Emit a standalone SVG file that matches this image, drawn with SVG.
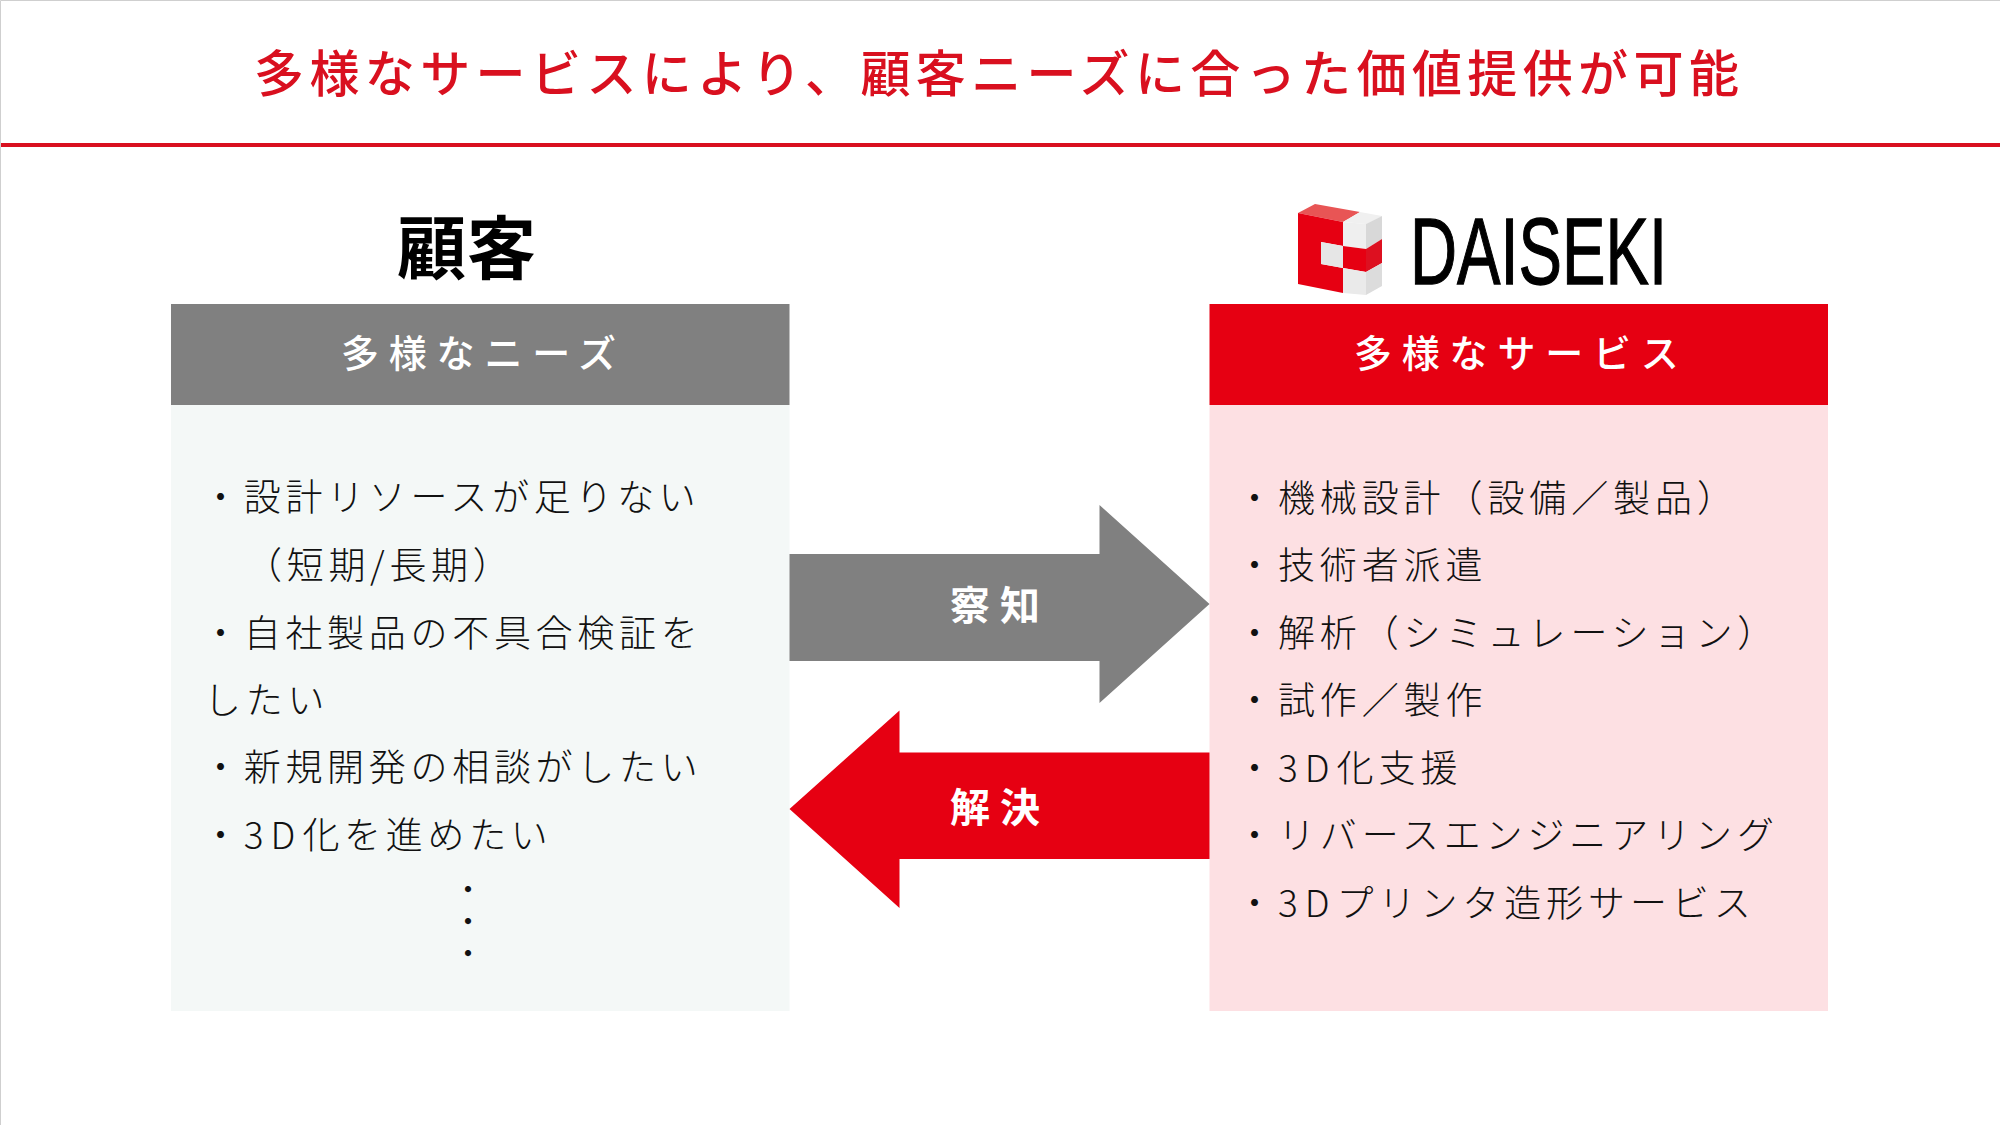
<svg xmlns="http://www.w3.org/2000/svg" width="2000" height="1125" viewBox="0 0 2000 1125">
<style>
text{font-family:"Noto Sans CJK JP","Noto Sans CJK SC",sans-serif}
.title{font-size:50px;letter-spacing:5.4px;fill:#d9101f;font-weight:500}
.head{font-size:38px;letter-spacing:9.8px;fill:#fff;font-weight:500}
.lab{font-size:40px;letter-spacing:10px;fill:#fff;font-weight:700}
.l{font-size:37px;letter-spacing:4.7px;fill:#111;font-weight:300}
.r{font-size:37px;letter-spacing:4.9px;fill:#111;font-weight:300}
.d{font-size:22px;fill:#111;font-weight:900}
.n{letter-spacing:7px}
</style>
<rect width="2000" height="1125" fill="#fff"/>
<path d="M0.5 1125V0.5H2000" fill="none" stroke="#cfcfcf"/>
<g id="header">
<text class="title" x="254" y="92">多様なサービスにより、顧客ニーズに合った価値提供が可能</text>
<rect x="1" y="143" width="1999" height="4" fill="#d9101f"/>
</g>
<g id="customer">
<text x="397" y="274" font-size="69" font-weight="700" letter-spacing="1" fill="#000">顧客</text>
<rect x="171" y="304" width="618.500" height="101" fill="#808080"/>
<rect x="171" y="405" width="618.500" height="606" fill="#f4f8f7"/>
<text class="head" x="341" y="367">多様なニーズ</text>
<text class="l" x="202" y="511">・設計リソースが足りない</text>
<text class="l" x="245" y="579">（短期/長期）</text>
<text class="l" x="202" y="647">・自社製品の不具合検証を</text>
<text class="l" x="204" y="714">したい</text>
<text class="l" x="202" y="781">・新規開発の相談がしたい</text>
<text class="l" x="202" y="849">・<tspan class="n">3D</tspan>化を進めたい</text>
<text class="d" x="457" y="897">・</text>
<text class="d" x="457" y="929">・</text>
<text class="d" x="457" y="961">・</text>
</g>
<g id="daiseki">
<polygon points="1298,213 1315,204 1360,212 1343,222" fill="#e85555"/>
<polygon points="1343,222 1360,212 1382,216 1366,224" fill="#f0f0f0"/>
<polygon points="1298,213 1343,222 1343,246 1321,242 1321,264 1343,268 1343,293 1298,284" fill="#e60012"/>
<polygon points="1343,222 1366,224 1366,249 1343,246" fill="#efefef"/>
<polygon points="1366,224 1382,216 1382,239 1366,249" fill="#d8d8d8"/>
<polygon points="1321,242 1343,246 1343,268 1321,264" fill="#e6e6e6"/>
<polygon points="1343,246 1366,249 1366,272 1343,268" fill="#e60012"/>
<polygon points="1366,249 1382,239 1382,263 1366,272" fill="#dd1020"/>
<polygon points="1343,268 1366,272 1366,295 1343,293" fill="#eaeaea"/>
<polygon points="1366,272 1382,263 1382,286 1366,295" fill="#dcdcdc"/>
<text x="1410" y="284" font-size="95" textLength="257" lengthAdjust="spacingAndGlyphs" fill="#000" stroke="#000" stroke-width="1.300" style="font-family:'Liberation Sans',sans-serif">DAISEKI</text>
<rect x="1209.500" y="304" width="618.500" height="101" fill="#e60012"/>
<rect x="1209.500" y="405" width="618.500" height="606" fill="#fde0e3"/>
<text class="head" x="1354" y="367">多様なサービス</text>
<text class="r" x="1236" y="512">・機械設計（設備／製品）</text>
<text class="r" x="1236" y="579">・技術者派遣</text>
<text class="r" x="1236" y="647">・解析（シミュレーション）</text>
<text class="r" x="1236" y="714">・試作／製作</text>
<text class="r" x="1236" y="782">・<tspan class="n">3D</tspan>化支援</text>
<text class="r" x="1236" y="849">・リバースエンジニアリング</text>
<text class="r" x="1236" y="917">・<tspan class="n">3D</tspan>プリンタ造形サービス</text>
</g>
<g id="connectors">
<g id="arrow-sasshi">
<polygon points="789.500,554 1099.500,554 1099.500,505 1209.500,604 1099.500,703 1099.500,661 789.500,661" fill="#808080"/>
<text class="lab" x="950" y="620">察知</text>
</g>
<g id="arrow-kaiketsu">
<polygon points="1209.500,752.500 899.500,752.500 899.500,710.500 789.500,809 899.500,908 899.500,859 1209.500,859" fill="#e60012"/>
<text class="lab" x="950" y="822">解決</text>
</g>
</g>
</svg>
